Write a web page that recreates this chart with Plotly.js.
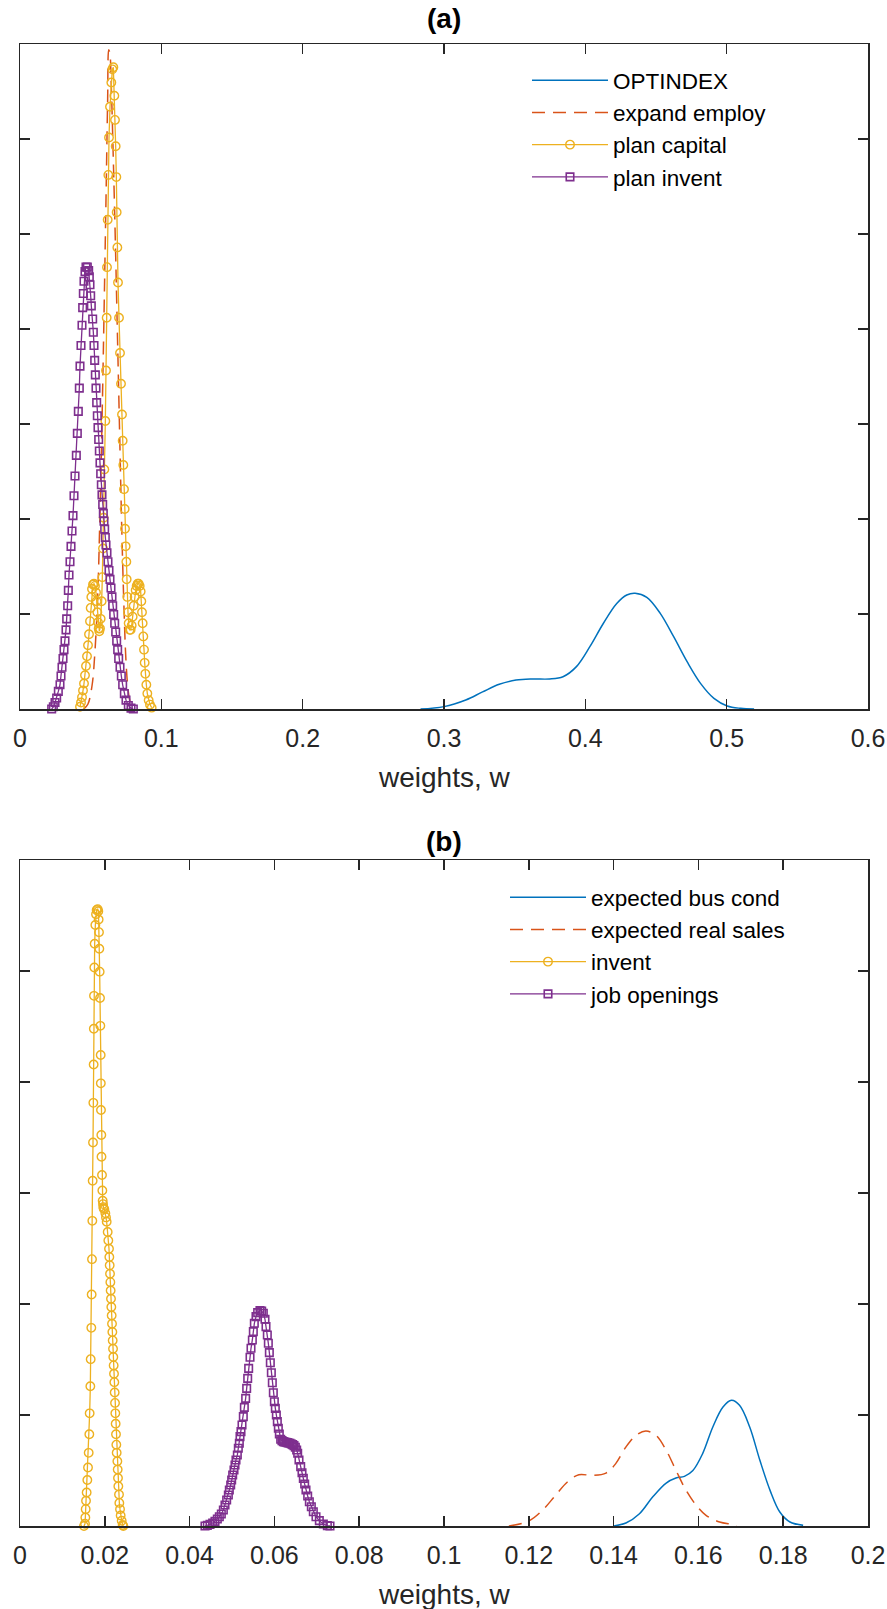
<!DOCTYPE html>
<html>
<head>
<meta charset="utf-8">
<script src="https://cdn.plot.ly/plotly-3.0.1.min.js"></script>
<style>html,body{margin:0;padding:0;background:#fff;}#chart{width:887px;height:1609px;}</style>
</head>
<body>
<div id="chart"></div>
<script>
// ---------- Panel (a) data: weights w vs density ----------
var a_optindex_x = [0.2834,0.3000,0.3154,0.3273,0.3391,0.3510,0.3629,0.3747,0.3842,0.3937,0.4032,0.4127,0.4222,0.4293,0.4352,0.4435,0.4530,0.4625,0.4720,0.4815,0.4910,0.5004,0.5099,0.5194];
var a_optindex_y = [0,0.25,0.95,1.8,2.6,3.05,3.16,3.16,3.4,4.46,6.56,9.0,11.1,12.0,12.18,11.75,10.07,7.61,4.98,2.7,1.12,0.32,0.07,0];

var a_employ_x = [0.0450,0.0480,0.0510,0.0530,0.0550,0.0565,0.0580,0.0595,0.0610,0.0620,0.0628,0.0636,0.0645,0.0660,0.0675,0.0690,0.0705,0.0720,0.0735,0.0750,0.0765,0.0780,0.0800];
var a_employ_y = [0,0.5,2.5,6,12,20,30,42,55,64,69.4,69,66,58,49,39,29,19,11,5,2,0.7,0];

var a_capital_x = [0.04245,0.04316,0.04387,0.04458,0.04528,0.04599,0.04670,0.04741,0.04811,0.04882,0.04953,0.05000,0.05047,0.05094,0.05165,0.05236,0.05306,0.05377,0.05424,0.05471,0.05519,0.05566,0.05613,0.05660,0.05707,0.05778,0.05825,0.05872,0.05920,0.05967,0.06038,0.06085,0.06132,0.06156,0.06203,0.06250,0.06297,0.06368,0.06462,0.06533,0.06604,0.06675,0.06722,0.06769,0.06816,0.06840,0.06887,0.06934,0.07005,0.07076,0.07146,0.07217,0.07264,0.07311,0.07359,0.07406,0.07429,0.07476,0.07524,0.07547,0.07594,0.07641,0.07689,0.07759,0.07830,0.07901,0.07972,0.08042,0.08113,0.08184,0.08255,0.08325,0.08396,0.08467,0.08538,0.08585,0.08632,0.08679,0.08726,0.08774,0.08821,0.08868,0.08939,0.09009,0.09104,0.09198,0.09316];
var a_capital_y = [0.23,0.69,1.25,1.94,2.68,3.56,4.53,5.55,6.71,7.87,9.25,10.64,11.80,12.63,13.10,13.19,12.96,12.26,11.34,10.18,9.12,8.47,8.19,8.47,9.49,11.34,13.88,16.89,20.13,25.22,30.31,35.63,41.18,46.51,51.50,56.22,60.16,63.40,65.94,67.33,67.56,64.55,62.01,59.23,55.99,52.29,48.59,44.89,41.18,37.48,34.24,31.00,28.23,25.68,23.14,21.06,18.97,17.12,15.50,13.65,11.80,10.18,9.02,8.33,8.33,8.79,9.72,10.87,11.80,12.49,12.96,13.19,13.19,12.96,12.36,11.34,10.18,9.02,7.64,6.25,4.86,3.70,2.55,1.62,0.93,0.46,0.14];

var a_invent_x = [0.02241,0.02359,0.02477,0.02594,0.02712,0.02830,0.02901,0.02972,0.03043,0.03113,0.03184,0.03255,0.03302,0.03373,0.03420,0.03467,0.03538,0.03609,0.03679,0.03750,0.03821,0.03892,0.03986,0.04057,0.04127,0.04198,0.04245,0.04316,0.04387,0.04434,0.04481,0.04528,0.04599,0.04670,0.04764,0.04858,0.04906,0.04953,0.05000,0.05047,0.05141,0.05189,0.05236,0.05283,0.05330,0.05377,0.05424,0.05471,0.05519,0.05566,0.05613,0.05660,0.05707,0.05754,0.05801,0.05849,0.05896,0.05943,0.05990,0.06037,0.06084,0.06155,0.06226,0.06297,0.06368,0.06438,0.06509,0.06557,0.06627,0.06698,0.06769,0.06840,0.06910,0.06981,0.07076,0.07170,0.07264,0.07382,0.07500,0.07665,0.07854,0.08019];
var a_invent_y = [0,0.23,0.69,1.16,1.85,2.55,3.47,4.40,5.32,6.25,7.17,8.33,9.49,10.87,12.49,14.11,15.50,17.12,18.74,20.36,22.44,24.53,26.70,29.01,31.33,33.78,36.09,38.27,40.40,42.25,43.73,45.03,46.04,46.51,46.51,46.14,45.49,44.66,43.50,42.43,41.05,39.66,38.27,36.70,35.17,33.78,32.25,30.87,29.62,28.37,27.16,25.91,24.76,23.60,22.54,21.52,20.59,19.76,18.93,18.05,17.26,16.43,15.50,14.58,13.65,12.73,11.80,10.87,9.95,9.02,8.10,7.17,6.25,5.32,4.40,3.47,2.55,1.62,0.93,0.37,0.09,0];

// ---------- Panel (b) data ----------
var b_buscond_x = [0.1400,0.1429,0.1461,0.1492,0.1524,0.1547,0.1567,0.1587,0.1610,0.1634,0.1658,0.1678,0.1697,0.1721,0.1745,0.1769,0.1792,0.1816,0.1847];
var b_buscond_y = [0,0.27,1.11,2.61,3.87,4.32,4.47,5.0,6.52,8.92,10.72,11.32,10.87,8.92,5.92,3.21,1.26,0.36,0.06];

var b_sales_x = [0.1153,0.1200,0.1232,0.1263,0.1291,0.1318,0.1350,0.1382,0.1405,0.1429,0.1453,0.1476,0.1500,0.1524,0.1547,0.1571,0.1595,0.1618,0.1650,0.1682,0.1690];
var b_sales_y = [0,0.45,1.41,2.76,3.96,4.62,4.56,4.77,5.62,7.12,8.17,8.56,8.17,6.82,5.02,3.21,1.86,0.96,0.36,0.12,0];

var b_invent_x = [0.01509,0.01533,0.01541,0.01549,0.01557,0.01572,0.01588,0.01604,0.01620,0.01635,0.01643,0.01659,0.01667,0.01682,0.01690,0.01698,0.01706,0.01714,0.01722,0.01730,0.01737,0.01741,0.01745,0.01753,0.01761,0.01777,0.01793,0.01808,0.01832,0.01847,0.01855,0.01863,0.01871,0.01879,0.01887,0.01895,0.01903,0.01906,0.01910,0.01918,0.01922,0.01934,0.01942,0.01950,0.01958,0.01965,0.01973,0.01989,0.02013,0.02028,0.02044,0.02068,0.02083,0.02099,0.02107,0.02115,0.02123,0.02131,0.02138,0.02146,0.02154,0.02162,0.02170,0.02178,0.02186,0.02194,0.02201,0.02209,0.02217,0.02225,0.02233,0.02241,0.02248,0.02256,0.02264,0.02272,0.02280,0.02296,0.02304,0.02311,0.02319,0.02335,0.02343,0.02359,0.02374,0.02398,0.02421,0.02437];
var b_invent_y = [0,0.20,0.77,1.52,2.27,3.02,4.14,5.27,6.59,8.27,10.15,12.59,15.03,17.85,20.85,24.04,27.49,31.10,34.55,38.12,41.57,44.80,47.76,50.32,52.45,54.14,55.12,55.50,55.57,55.38,54.63,53.50,52.00,49.94,47.57,45.06,42.43,39.88,37.48,35.23,33.27,31.62,30.23,29.30,29.00,28.73,28.60,28.54,28.17,27.80,27.41,26.48,25.73,24.98,24.23,23.48,22.73,21.97,21.22,20.47,19.72,18.97,18.22,17.47,16.72,15.97,15.22,14.47,13.72,12.96,12.03,11.09,10.15,9.21,8.27,7.33,6.59,5.83,5.08,4.33,3.58,2.83,2.08,1.52,0.95,0.47,0.09,0];

var b_jobs_x = [0.04363,0.04418,0.04481,0.04544,0.04599,0.04654,0.04701,0.04748,0.04796,0.04835,0.04874,0.04914,0.04937,0.04969,0.04992,0.05016,0.05047,0.05071,0.05094,0.05126,0.05149,0.05173,0.05189,0.05212,0.05236,0.05267,0.05291,0.05322,0.05346,0.05370,0.05393,0.05425,0.05448,0.05480,0.05503,0.05527,0.05566,0.05605,0.05660,0.05700,0.05739,0.05778,0.05802,0.05833,0.05857,0.05881,0.05904,0.05928,0.05951,0.05975,0.05999,0.06022,0.06046,0.06069,0.06093,0.06116,0.06148,0.06179,0.06211,0.06242,0.06274,0.06305,0.06337,0.06368,0.06400,0.06431,0.06462,0.06494,0.06525,0.06549,0.06580,0.06620,0.06651,0.06682,0.06714,0.06745,0.06785,0.06824,0.06871,0.06918,0.06981,0.07060,0.07154,0.07249,0.07311];
var b_jobs_y = [0,0.06,0.15,0.27,0.42,0.63,0.84,1.08,1.44,1.89,2.34,2.79,3.24,3.69,4.14,4.59,5.05,5.50,5.95,6.40,7.00,7.45,8.05,8.50,9.10,9.85,10.69,11.50,12.40,13.30,14.20,15.20,16.01,16.76,17.51,18.26,18.86,19.22,19.40,19.37,19.16,18.62,17.96,17.21,16.46,15.62,14.71,13.81,12.91,12.01,11.20,10.60,10.00,9.40,8.80,8.29,7.81,7.69,7.60,7.57,7.54,7.51,7.48,7.45,7.39,7.33,7.24,7.09,6.85,6.55,5.95,5.35,4.80,4.29,3.78,3.24,2.70,2.19,1.74,1.29,0.84,0.48,0.18,0.03,0];

var a_xticks = [0,0.1,0.2,0.3,0.4,0.5,0.6];
var b_xticks = [0,0.02,0.04,0.06,0.08,0.1,0.12,0.14,0.16,0.18,0.2];

// ---------- styling ----------
var C_BLUE = '#0072BD', C_RED = '#D95319', C_YEL = '#EDB120', C_PUR = '#7E2F8E';
var AX = '#262626';
var FONT = 'Arial, "Liberation Sans", Helvetica, sans-serif';

function lineTrace(x, y, name, color, dash, xa, ya, leg) {
  return {x: x, y: y, name: name, type: 'scatter', mode: 'lines', xaxis: xa, yaxis: ya, legend: leg,
    line: {color: color, width: 1.5, dash: dash, shape: 'spline', smoothing: 1}};
}
function markTrace(x, y, name, color, sym, size, mlw, xa, ya, leg) {
  return {x: x, y: y, name: name, type: 'scatter', mode: 'lines+markers', xaxis: xa, yaxis: ya, legend: leg,
    cliponaxis: false,
    line: {color: color, width: 1.3},
    marker: {symbol: sym, size: size, color: color, line: {color: color, width: mlw}}};
}

var traces = [
  lineTrace(a_optindex_x, a_optindex_y, 'OPTINDEX', C_BLUE, 'solid', 'x', 'y', 'legend'),
  lineTrace(a_employ_x, a_employ_y, 'expand employ', C_RED, '13px,8px', 'x', 'y', 'legend'),
  markTrace(a_capital_x, a_capital_y, 'plan capital', C_YEL, 'circle-open', 8.5, 1.4, 'x', 'y', 'legend'),
  markTrace(a_invent_x, a_invent_y, 'plan invent', C_PUR, 'square-open', 7.5, 1.6, 'x', 'y', 'legend'),
  lineTrace(b_buscond_x, b_buscond_y, 'expected bus cond', C_BLUE, 'solid', 'x2', 'y2', 'legend2'),
  lineTrace(b_sales_x, b_sales_y, 'expected real sales', C_RED, '13px,8px', 'x2', 'y2', 'legend2'),
  markTrace(b_invent_x, b_invent_y, 'invent', C_YEL, 'circle-open', 8.5, 1.4, 'x2', 'y2', 'legend2'),
  markTrace(b_jobs_x, b_jobs_y, 'job openings', C_PUR, 'square-open', 7.5, 1.6, 'x2', 'y2', 'legend2')
];

var W = 887, H = 1609;
function px2x(p) { return p / W; }
function px2y(p) { return (H - p) / H; }

var xBase = {showgrid: false, zeroline: false, showline: true, linecolor: AX, linewidth: 1.5,
  ticks: 'inside', ticklen: 10, tickwidth: 1.5, tickcolor: AX, mirror: 'ticks', ticklabelstandoff: 6,
  tickfont: {family: FONT, size: 25, color: AX}, automargin: false, fixedrange: true};
var yBase = {showgrid: false, zeroline: false, showline: true, linecolor: AX, linewidth: 1.5,
  ticks: 'inside', ticklen: 10, tickwidth: 1.5, tickcolor: AX, mirror: 'ticks',
  showticklabels: false, automargin: false, fixedrange: true};

var LEGFONT = {family: FONT, size: 22.5, color: '#000'};
var layout = {
  width: W, height: H,
  margin: {l: 0, r: 0, t: 0, b: 0},
  paper_bgcolor: '#ffffff', plot_bgcolor: '#ffffff',
  showlegend: true,
  xaxis: Object.assign({}, xBase, {domain: [px2x(20), px2x(868)], range: [0, 0.6], tickvals: a_xticks, anchor: 'y'}),
  yaxis: Object.assign({}, yBase, {domain: [px2y(709), px2y(44)], range: [0, 70], dtick: 10, tick0: 0, anchor: 'x'}),
  xaxis2: Object.assign({}, xBase, {domain: [px2x(20), px2x(868)], range: [0, 0.2], tickvals: b_xticks, anchor: 'y2'}),
  yaxis2: Object.assign({}, yBase, {domain: [px2y(1526), px2y(860)], range: [0, 60], dtick: 10, tick0: 0, anchor: 'x2'}),
  legend: {x: px2x(527), y: px2y(59), xanchor: 'left', yanchor: 'top', bgcolor: 'rgba(0,0,0,0)',
    borderwidth: 0, itemwidth: 76, tracegroupgap: 0, font: LEGFONT},
  legend2: {x: px2x(505), y: px2y(876), xanchor: 'left', yanchor: 'top', bgcolor: 'rgba(0,0,0,0)',
    borderwidth: 0, itemwidth: 76, tracegroupgap: 0, font: LEGFONT},
  annotations: [
    {text: '<b>(a)</b>', xref: 'paper', yref: 'paper', x: px2x(444), y: px2y(19), xanchor: 'center', yanchor: 'middle', showarrow: false, font: {family: FONT, size: 28, color: '#000'}},
    {text: '<b>(b)</b>', xref: 'paper', yref: 'paper', x: px2x(444), y: px2y(841), xanchor: 'center', yanchor: 'middle', showarrow: false, font: {family: FONT, size: 28, color: '#000'}},
    {text: 'weights, w', xref: 'paper', yref: 'paper', x: px2x(444), y: px2y(777), xanchor: 'center', yanchor: 'middle', showarrow: false, font: {family: FONT, size: 28, color: AX}},
    {text: 'weights, w', xref: 'paper', yref: 'paper', x: px2x(444), y: px2y(1594), xanchor: 'center', yanchor: 'middle', showarrow: false, font: {family: FONT, size: 28, color: AX}}
  ]
};

// centre the legend marker symbols on their (longer) line samples, as in the original legend
function centreLegendMarkers() {
  var gd = document.getElementById('chart');
  gd.querySelectorAll('.legend .legendpoints path').forEach(function (p) {
    p.setAttribute('transform', 'translate(43,0)');
  });
}
var gdEl = document.getElementById('chart');
Plotly.newPlot(gdEl, traces, layout, {staticPlot: true, displayModeBar: false}).then(function () {
  centreLegendMarkers();
  setTimeout(centreLegendMarkers, 0);
  setTimeout(centreLegendMarkers, 200);
});
gdEl.on && gdEl.on('plotly_afterplot', centreLegendMarkers);
</script>
</body>
</html>
